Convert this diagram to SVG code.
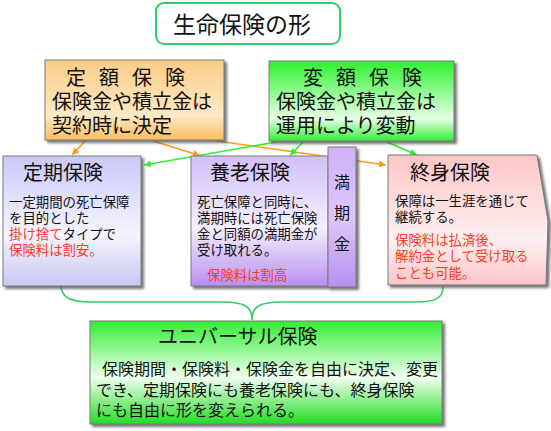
<svg xmlns="http://www.w3.org/2000/svg" width="551" height="431" viewBox="0 0 551 431">
<defs>
<style>
text{font-family:"Noto Sans CJK JP","Noto Sans CJK SC",sans-serif;fill:#111}
.t20{font-size:20px}
.b{font-size:13.4px}
.u{font-size:16px}
.red{fill:#ff3b1f}
.box{stroke:#7a7a7a;stroke-width:1;filter:url(#sh)}
.or{stroke:#ff9a1a;stroke-width:1.6;fill:none;marker-end:url(#ao)}
.gr{stroke:#2ef02e;stroke-width:1.6;fill:none;marker-end:url(#ag)}
</style>
<filter id="sh" x="-10%" y="-10%" width="125%" height="125%">
<feDropShadow dx="2.5" dy="2.5" stdDeviation="0.8" flood-color="#555" flood-opacity="0.8"/>
</filter>
<marker id="ao" viewBox="0 0 10 10" refX="10" refY="5" markerWidth="7" markerHeight="7" markerUnits="userSpaceOnUse" orient="auto"><path d="M0,0L10,5L0,10z" fill="#ff9a1a"/></marker>
<marker id="ag" viewBox="0 0 10 10" refX="10" refY="5" markerWidth="7" markerHeight="7" markerUnits="userSpaceOnUse" orient="auto"><path d="M0,0L10,5L0,10z" fill="#2ef02e"/></marker>
<linearGradient id="gOr" x1="0" y1="0" x2="0" y2="1"><stop offset="0" stop-color="#fbcd86"/><stop offset="0.7" stop-color="#fde8c6"/><stop offset="1" stop-color="#fbbe60"/></linearGradient>
<linearGradient id="gGr" x1="0" y1="0" x2="0" y2="1"><stop offset="0" stop-color="#2cf22c"/><stop offset="0.72" stop-color="#e8ffe8"/><stop offset="1" stop-color="#33ee33"/></linearGradient>
<linearGradient id="gLav" x1="0" y1="0" x2="0" y2="1"><stop offset="0" stop-color="#c9c9f7"/><stop offset="0.6" stop-color="#f4f4fe"/><stop offset="1" stop-color="#c8c8f2"/></linearGradient>
<linearGradient id="gPu" x1="0" y1="0" x2="0" y2="1"><stop offset="0" stop-color="#d2bff7"/><stop offset="0.55" stop-color="#f5efff"/><stop offset="1" stop-color="#b88ff0"/></linearGradient>
<linearGradient id="gTab" x1="0" y1="0" x2="0" y2="1"><stop offset="0" stop-color="#cdb0f6"/><stop offset="0.5" stop-color="#dcc8f8"/><stop offset="1" stop-color="#b890ef"/></linearGradient>
<linearGradient id="gPk" x1="0" y1="0" x2="0" y2="1"><stop offset="0" stop-color="#fdc5c5"/><stop offset="0.65" stop-color="#fff0f0"/><stop offset="1" stop-color="#fcc4c8"/></linearGradient>
<linearGradient id="gUn" x1="0" y1="0" x2="0" y2="1"><stop offset="0" stop-color="#33ee33"/><stop offset="0.55" stop-color="#f0fff0"/><stop offset="1" stop-color="#22dd22"/></linearGradient>
</defs>
<rect width="551" height="431" fill="#fff"/>

<g id="connectors">
<line class="or" x1="85" y1="141" x2="72" y2="155"/>
<line class="or" x1="153" y1="141" x2="200" y2="155.5"/>
<line class="or" x1="217" y1="141" x2="386" y2="165"/>
<line class="gr" x1="276" y1="142" x2="144" y2="165"/>
<line class="gr" x1="303" y1="142" x2="290" y2="155.5"/>
<line class="gr" x1="387" y1="142" x2="417" y2="155"/>
<path d="M61,284 C61,298 70,302 92,302 L222,302 C244,302 252,306 252,320 C252,306 260,302 282,302 L416,302 C436,302 443,298 443,287" fill="none" stroke="#33cc66" stroke-width="1.6"/>
</g>

<g id="title">
<rect x="156" y="3" width="184" height="41" rx="8" fill="#fff" stroke="#33cc66" stroke-width="2"/>
<text x="242" y="33" font-size="23" text-anchor="middle">生命保険の形</text>
</g>

<g id="teigaku">
<rect class="box" x="45" y="60" width="179" height="80" fill="url(#gOr)"/>
<text class="t20" x="66" y="85" xml:space="preserve" word-spacing="8.5">定 額 保 険</text>
<text class="t20" x="52" y="109">保険金や積立金は</text>
<text class="t20" x="52" y="133">契約時に決定</text>
</g>

<g id="hengaku">
<rect class="box" x="269" y="61" width="185" height="80" fill="url(#gGr)"/>
<text class="t20" x="303" y="85" xml:space="preserve" word-spacing="8.5">変 額 保 険</text>
<text class="t20" x="276" y="109">保険金や積立金は</text>
<text class="t20" x="276" y="133">運用により変動</text>
</g>

<g id="teiki">
<rect class="box" x="3" y="156" width="138" height="130" fill="url(#gLav)"/>
<text class="t20" x="23" y="180">定期保険</text>
<text class="b" x="9" y="207">一定期間の死亡保障</text>
<text class="b" x="9" y="223">を目的とした</text>
<text class="b" x="9" y="239"><tspan class="red">掛け捨て</tspan>タイプで</text>
<text class="b red" x="9" y="255">保険料は割安。</text>
</g>

<g id="yourou">
<rect class="box" x="191" y="156" width="137" height="130" fill="url(#gPu)"/>
<text class="t20" x="210" y="180">養老保険</text>
<text class="b" x="197" y="207">死亡保障と同時に、</text>
<text class="b" x="197" y="223">満期時には死亡保険</text>
<text class="b" x="197" y="239">金と同額の満期金が</text>
<text class="b" x="197" y="255">受け取れる。</text>
<text class="b red" x="207" y="280">保険料は割高</text>
</g>

<g id="manki">
<rect class="box" x="328" y="147" width="28" height="140" fill="url(#gTab)"/>
<text x="342" y="188" font-size="16" text-anchor="middle">満</text>
<text x="342" y="219" font-size="16" text-anchor="middle">期</text>
<text x="342" y="250" font-size="16" text-anchor="middle">金</text>
</g>

<g id="shushin">
<path class="box" d="M388,155 L537,155 L548,221 L546,285 L388,285 Z" fill="url(#gPk)"/>
<text class="t20" x="410" y="180">終身保険</text>
<text class="b" x="395" y="206">保障は一生涯を通じて</text>
<text class="b" x="395" y="222">継続する。</text>
<text class="b red" x="395" y="245">保険料は払済後、</text>
<text class="b red" x="395" y="261">解約金として受け取る</text>
<text class="b red" x="395" y="278">ことも可能。</text>
</g>

<g id="universal">
<rect class="box" x="90" y="321" width="352" height="103" fill="url(#gUn)"/>
<text class="t20" x="158" y="344">ユニバーサル保険</text>
<text class="u" x="102" y="375">保険期間・保険料・保険金を自由に決定、変更</text>
<text class="u" x="96" y="396">でき、定期保険にも養老保険にも、終身保険</text>
<text class="u" x="96" y="416">にも自由に形を変えられる。</text>
</g>
</svg>
